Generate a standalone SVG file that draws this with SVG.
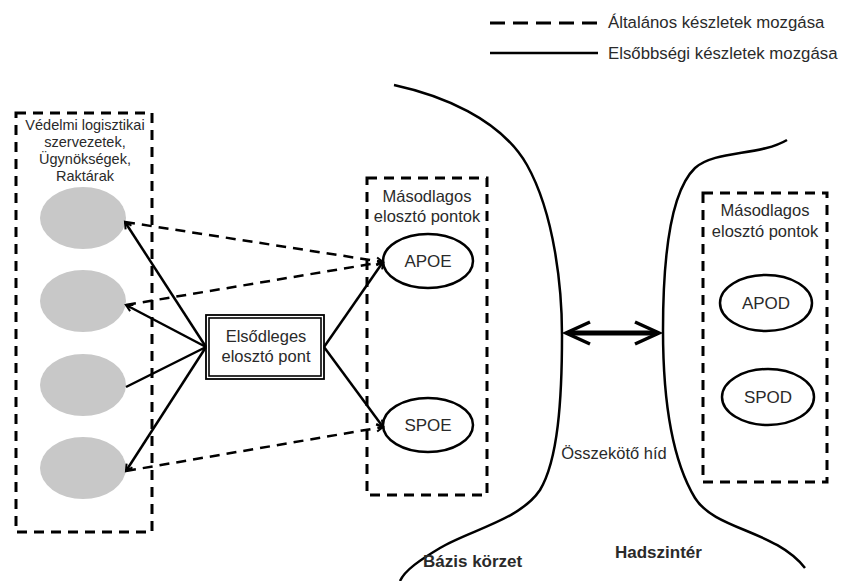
<svg xmlns="http://www.w3.org/2000/svg" width="847" height="581" viewBox="0 0 847 581">
<defs>
<marker id="arr" markerUnits="userSpaceOnUse" markerWidth="12" markerHeight="12" viewBox="-9 -6 12 12" refX="0" refY="0" orient="auto">
<path d="M-6.5,-3.5 L0,0 L-6.5,3.5" fill="none" stroke="#000" stroke-width="2"/>
</marker>
</defs>
<style>
text{font-family:"Liberation Sans",Arial,sans-serif;fill:#2a2a2a}
.box{fill:none;stroke:#000;stroke-width:3;stroke-dasharray:10 7}
.src{fill:#c8c8c8;stroke:none}
.ell{fill:#fff;stroke:#000;stroke-width:2.5}
.sol{fill:none;stroke:#000;stroke-width:2.5}
.dsh{fill:none;stroke:#000;stroke-width:2.5;stroke-dasharray:10 7}
.curve{fill:none;stroke:#000;stroke-width:2.5}
.bold{font-weight:bold}
</style>
<g id="legend">
<line x1="490" y1="23" x2="598" y2="23" stroke="#000" stroke-width="3" stroke-dasharray="15 8"/>
<text x="608" y="28" font-size="16.8">Általános készletek mozgása</text>
<line x1="490" y1="53" x2="598" y2="53" stroke="#000" stroke-width="2.5"/>
<text x="608" y="59" font-size="16.8">Elsőbbségi készletek mozgása</text>
</g>
<g id="regions">
<path class="curve" d="M394,85 C440,95 500,118 527,165 C555,215 562,290 562,335 C562,400 558,460 540,490 C520,520 470,530 440,548 C420,560 405,570 400,581"/>
<path class="curve" d="M787,140 C760,156 715,150 695,168 C670,192 663,260 663,330 C663,400 672,460 695,498 C715,530 775,530 805,568"/>
<text class="bold" x="423" y="567" font-size="17">Bázis körzet</text>
<text class="bold" x="615" y="558" font-size="17">Hadszintér</text>
<text x="614" y="459" font-size="16.5" text-anchor="middle">Összekötő híd</text>
</g>
<g id="sources">
<rect class="box" x="16" y="113" width="136" height="419"/>
<text font-size="14.5" text-anchor="middle"><tspan x="85" y="130">Védelmi logisztikai</tspan><tspan x="85" y="147">szervezetek,</tspan><tspan x="85" y="164">Ügynökségek,</tspan><tspan x="85" y="181">Raktárak</tspan></text>
<ellipse id="src1" class="src" cx="83" cy="218" rx="43" ry="31"/>
<ellipse id="src2" class="src" cx="83" cy="301" rx="43" ry="31"/>
<ellipse id="src3" class="src" cx="83" cy="385" rx="43" ry="31"/>
<ellipse id="src4" class="src" cx="83" cy="468" rx="43" ry="31"/>
</g>
<g id="primary">
<rect x="206" y="315" width="118" height="64" fill="#fff" stroke="#000" stroke-width="1.8"/>
<rect x="209" y="318" width="112" height="58" fill="none" stroke="#000" stroke-width="1.6"/>
<text font-size="16.5" text-anchor="middle"><tspan x="266" y="342">Elsődleges</tspan><tspan x="266" y="362">elosztó pont</tspan></text>
</g>
<g id="base-secondary">
<rect class="box" x="367" y="178" width="120" height="317"/>
<text font-size="16.5" text-anchor="middle"><tspan x="427" y="202">Másodlagos</tspan><tspan x="427" y="222">elosztó pontok</tspan></text>
</g>
<g id="apoe">
<ellipse class="ell" cx="428" cy="261" rx="45" ry="27"/>
<text x="428" y="267" font-size="17" text-anchor="middle">APOE</text>
</g>
<g id="spoe">
<ellipse class="ell" cx="428" cy="425" rx="45" ry="27"/>
<text x="428" y="431" font-size="17" text-anchor="middle">SPOE</text>
</g>
<g id="theatre-secondary">
<rect class="box" x="703" y="193" width="124" height="289"/>
<text font-size="16.5" text-anchor="middle"><tspan x="765" y="216">Másodlagos</tspan><tspan x="765" y="237">elosztó pontok</tspan></text>
</g>
<g id="apod">
<ellipse class="ell" cx="766" cy="303" rx="46" ry="28"/>
<text x="766" y="309" font-size="17" text-anchor="middle">APOD</text>
</g>
<g id="spod">
<ellipse class="ell" cx="768" cy="397" rx="46" ry="28"/>
<text x="768" y="403" font-size="17" text-anchor="middle">SPOD</text>
</g>
<g id="connectors">
<line class="sol" x1="206" y1="347" x2="125" y2="222" marker-end="url(#arr)"/>
<line class="sol" x1="206" y1="347" x2="126" y2="305" marker-end="url(#arr)"/>
<line class="sol" x1="206" y1="347" x2="126" y2="387"/>
<line class="sol" x1="206" y1="347" x2="126" y2="471" marker-end="url(#arr)"/>
<line class="sol" x1="324" y1="347" x2="383" y2="262" marker-end="url(#arr)"/>
<line class="sol" x1="324" y1="347" x2="383" y2="427" marker-end="url(#arr)"/>
<line class="dsh" x1="125" y1="222" x2="383" y2="262" marker-end="url(#arr)"/>
<line class="dsh" x1="126" y1="305" x2="383" y2="262"/>
<line class="dsh" x1="126" y1="471" x2="383" y2="427" marker-end="url(#arr)"/>
<g id="bridge">
<line x1="568" y1="333" x2="657" y2="333" stroke="#000" stroke-width="5"/>
<path d="M590,322 L566,333 L590,344" fill="none" stroke="#000" stroke-width="3.5"/>
<path d="M635,322 L659,333 L635,344" fill="none" stroke="#000" stroke-width="3.5"/>
</g>
</g>
</svg>
